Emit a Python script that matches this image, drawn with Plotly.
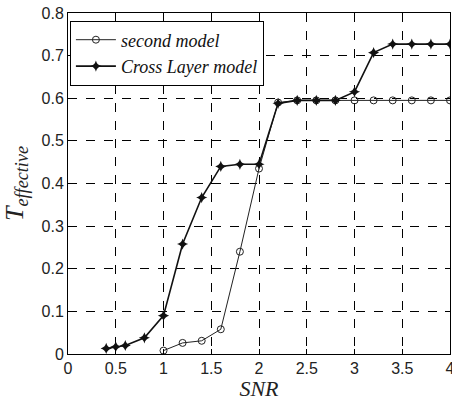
import plotly.graph_objects as go

snr_second = [1.0, 1.2, 1.4, 1.6, 1.8, 2.0, 2.2, 2.4, 2.6, 2.8, 3.0, 3.2, 3.4, 3.6, 3.8, 4.0]
t_second = [0.008, 0.026, 0.031, 0.058, 0.24, 0.435, 0.59, 0.595, 0.595, 0.595, 0.595, 0.595, 0.595, 0.595, 0.595, 0.595]

snr_cross = [0.4, 0.5, 0.6, 0.8, 1.0, 1.2, 1.4, 1.6, 1.8, 2.0, 2.2, 2.4, 2.6, 2.8, 3.0, 3.2, 3.4, 3.6, 3.8, 4.0]
t_cross = [0.013, 0.017, 0.02, 0.038, 0.09, 0.258, 0.367, 0.44, 0.445, 0.445, 0.588, 0.595, 0.595, 0.595, 0.615, 0.707, 0.727, 0.727, 0.727, 0.727]

x_ticks = [0, 0.5, 1, 1.5, 2, 2.5, 3, 3.5, 4]
x_labels = ["0", "0.5", "1", "1.5", "2", "2.5", "3", "3.5", "4"]
y_ticks = [0, 0.1, 0.2, 0.3, 0.4, 0.5, 0.6, 0.7, 0.8]
y_labels = ["0", "0.1", "0.2", "0.3", "0.4", "0.5", "0.6", "0.7", "0.8"]

fig = go.Figure()
fig.add_trace(go.Scatter(
    x=snr_second, y=t_second, mode="lines+markers", name="<i>second model</i>",
    line=dict(color="#222222", width=1),
    marker=dict(symbol="circle-open", size=7, color="#222222", line=dict(width=1)),
))
fig.add_trace(go.Scatter(
    x=snr_cross, y=t_cross, mode="lines+markers", name="<i>Cross Layer model</i>",
    line=dict(color="#111111", width=1.6),
    marker=dict(symbol="star-diamond", size=8, color="#111111"),
))

axis_common = dict(
    showline=True, linecolor="black", linewidth=1, mirror="ticks",
    ticks="inside", ticklen=5, tickcolor="black",
    showgrid=True, gridcolor="black", griddash="dash", gridwidth=1,
    zeroline=False, automargin=False, ticklabeloverflow="allow",
    tickfont=dict(family="Liberation Sans Narrow, Liberation Sans, Arial", size=16, color="#222222"),
)

fig.update_layout(
    width=452, height=401,
    margin=dict(l=68, r=2, t=13, b=47),
    paper_bgcolor="white", plot_bgcolor="white",
    showlegend=True,
    legend=dict(
        x=0.005, y=0.978, xanchor="left", yanchor="top",
        bgcolor="white", bordercolor="black", borderwidth=1,
        font=dict(family="Liberation Serif, Times New Roman, serif", size=18, color="#111111"),
        tracegroupgap=0, itemwidth=40,
    ),
    xaxis=dict(
        range=[0, 4], tickvals=x_ticks, ticktext=x_labels,
        title=dict(text="<i>SNR</i>", font=dict(family="Liberation Serif, serif", size=22, color="#222222"), standoff=2),
        **axis_common,
    ),
    yaxis=dict(
        range=[0, 0.8], tickvals=y_ticks, ticktext=y_labels,
        title=dict(text="<i>T</i><sub><i>effective</i></sub>", font=dict(family="Liberation Serif, serif", size=26, color="#222222"), standoff=10),
        **axis_common,
    ),
)

fig.write_html(
    "out.html",
    config={"displayModeBar": False},
    post_script="document.body.style.margin='0';document.body.style.overflow='hidden';",
)
